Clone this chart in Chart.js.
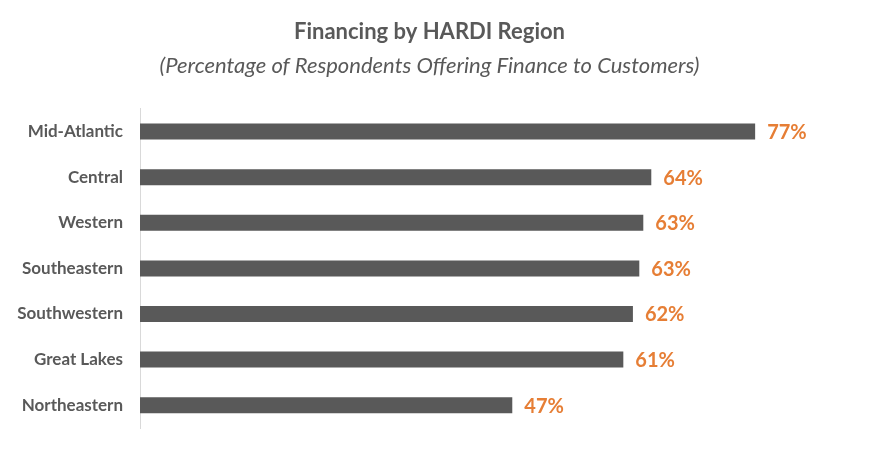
<!DOCTYPE html>
<html>
<head>
<meta charset="utf-8">
<script src="https://cdn.jsdelivr.net/npm/chart.js@4"></script>
<style>
  html, body { margin: 0; padding: 0; background: #fff; }
  #wrap { width: 880px; height: 450px; }
</style>
</head>
<body>
<div id="wrap"><canvas id="financeChart"></canvas></div>
<script>
const regions = ['Mid-Atlantic', 'Central', 'Western', 'Southeastern', 'Southwestern', 'Great Lakes', 'Northeastern'];
const offeringFinance = [77, 64, 63, 62.5, 61.7, 60.5, 46.6];

// etiquetas de valor al final de cada barra
const valueLabels = {
    id: 'valueLabels',
    afterDatasetsDraw(chart) {
        const ctx = chart.ctx;
        const meta = chart.getDatasetMeta(0);
        ctx.save();
        ctx.font = 'bold 20px Lato';
        ctx.fillStyle = '#E67E35';
        ctx.textBaseline = 'middle';
        ctx.textAlign = 'left';
        meta.data.forEach((bar, i) => {
            ctx.fillText(Math.round(offeringFinance[i]) + '%', bar.x + 12, bar.y + 1);
        });
        ctx.restore();
    }
};

new Chart(document.getElementById('financeChart'), {
    type: 'bar',
    data: {
        labels: regions,
        datasets: [{
            data: offeringFinance,
            backgroundColor: '#595959',
            categoryPercentage: 1,
            barPercentage: 0.35
        }]
    },
    options: {
        indexAxis: 'y',
        responsive: true,
        maintainAspectRatio: false,
        animation: false,
        layout: { padding: { left: 0, right: 21, bottom: 22 } },
        plugins: {
            legend: { display: false },
            tooltip: { enabled: false },
            title: {
                display: true,
                text: 'Financing by HARDI Region',
                color: '#595959',
                font: { family: 'Lato', size: 22, weight: 'bold' },
                padding: { top: 19, bottom: 7 }
            },
            subtitle: {
                display: true,
                text: '(Percentage of Respondents Offering Finance to Customers)',
                color: '#595959',
                font: { family: 'Lato', size: 22, style: 'italic' },
                padding: { top: 0, bottom: 30 }
            }
        },
        scales: {
            x: { display: false, min: 0, max: 90 },
            y: {
                grid: { display: false },
                border: { display: true, color: '#d9d9d9', width: 1 },
                ticks: {
                    color: '#595959',
                    padding: 9,
                    font: { family: 'Lato', size: 17, weight: 'bold' }
                },
                afterFit: axis => { axis.width = 140; }
            }
        }
    },
    plugins: [valueLabels]
});
</script>
</body>
</html>
